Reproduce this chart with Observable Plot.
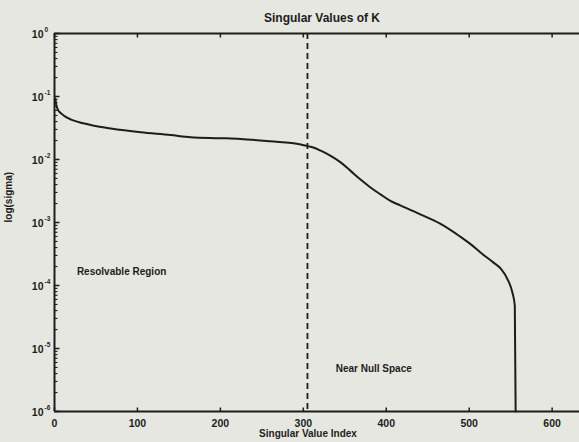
<!DOCTYPE html>
<html>
<head>
<meta charset="utf-8">
<script src="https://cdn.jsdelivr.net/npm/d3@7"></script>
<script src="https://cdn.jsdelivr.net/npm/@observablehq/plot@0.6"></script>
<style>
  html, body { margin: 0; padding: 0; background: #e6e7e1; }
  #chart svg { display: block; }
</style>
</head>
<body>
<div id="chart"></div>
<script>
// Singular value spectrum of K (index vs. sigma, log scale)
const svIndex = [1, 2, 4, 8, 14, 20, 30, 45, 68, 104, 140, 164, 200, 224, 260, 297, 305, 312, 321, 333, 345, 357, 369, 381, 393, 405, 417, 441, 465, 489, 502, 514, 529, 538, 547, 552, 555, 556];
const svValue = [0.092, 0.075, 0.062, 0.054, 0.047, 0.043, 0.039, 0.035, 0.031, 0.027, 0.0245, 0.0226, 0.0218, 0.0212, 0.0194, 0.0173, 0.0163, 0.0155, 0.0138, 0.0114, 0.0090, 0.0066, 0.0048, 0.0036, 0.0028, 0.0022, 0.00187, 0.00135, 0.00096, 0.0006, 0.00045, 0.00033, 0.000233, 0.000186, 0.00012, 0.000078, 0.000048, 0.000001];

// Boundary between the resolvable region and the near null space
const cutoffIndex = [305];

// Axis ticks and labels
const xTicks = [0, 100, 200, 300, 400, 500, 600];
const yDecades = [1, 1e-1, 1e-2, 1e-3, 1e-4, 1e-5, 1e-6];
const yExponents = ["0", "-1", "-2", "-3", "-4", "-5", "-6"];

// Region annotations
const regionLabels = ["Resolvable Region", "Near Null Space"];
const regionX = [27, 339];
const regionY = [1.66e-4, 4.7e-6];

const curve = svIndex.map((x, i) => ({x, y: svValue[i]}));
const minorTicks = yDecades.slice(1).flatMap(d => d3.range(2, 10).map(k => k * d));
const regions = regionLabels.map((t, i) => ({t, x: regionX[i], y: regionY[i]}));
const ink = "#1d1d1b";
const font = "Liberation Sans, Arial, sans-serif";

// inward tick lengths, in data units of the opposite axis
const xPerPx = 633 / 525;
const yTickUp = v => v * Math.pow(10, 4 / 63);
const yTickDown = v => v / Math.pow(10, 4 / 63);

const chart = Plot.plot({
  width: 579,
  height: 442,
  marginLeft: 54,
  marginTop: 33,
  marginBottom: 31,
  marginRight: 0,
  style: {background: "#e6e7e1", color: ink, fontFamily: font, overflow: "visible"},
  x: {domain: [0, 633], axis: null},
  y: {type: "log", domain: [1e-6, 1], axis: null},
  marks: [
    // box lines
    Plot.ruleY([1e-6], {stroke: ink, strokeWidth: 2}),
    Plot.ruleY([1], {stroke: ink, strokeWidth: 2}),
    Plot.ruleX([0], {stroke: ink, strokeWidth: 2}),
    // inward ticks
    Plot.link(xTicks, {x1: d => d, x2: d => d, y1: () => 1e-6, y2: () => yTickUp(1e-6), stroke: ink, strokeWidth: 1.5}),
    Plot.link(xTicks, {x1: d => d, x2: d => d, y1: () => 1, y2: () => yTickDown(1), stroke: ink, strokeWidth: 1.5}),
    Plot.link(yDecades, {x1: () => 0, x2: () => 5 * xPerPx, y1: d => d, y2: d => d, stroke: ink, strokeWidth: 1.5}),
    Plot.link(minorTicks, {x1: () => 0, x2: () => 3 * xPerPx, y1: d => d, y2: d => d, stroke: ink, strokeWidth: 1.1}),
    // tick labels
    Plot.text(xTicks, {x: d => d, y: () => 1e-6, text: d => String(d), dy: 12, fontSize: 10.5, fontWeight: "bold", fill: ink}),
    Plot.text(yDecades, {x: () => 0, y: d => d, text: () => "10", dx: -11, dy: 1, textAnchor: "end", fontSize: 10.5, fontWeight: "bold", fill: ink}),
    Plot.text(yDecades, {x: () => 0, y: d => d, text: (d, i) => yExponents[i], dx: -10, dy: -4, textAnchor: "start", fontSize: 6.5, fontWeight: "bold", fill: ink}),
    // cutoff
    Plot.ruleX(cutoffIndex, {stroke: ink, strokeWidth: 1.8, strokeDasharray: "6,4"}),
    // spectrum
    Plot.line(curve, {x: "x", y: "y", stroke: ink, strokeWidth: 2, curve: "monotone-x"}),
    // annotations
    Plot.text(regions, {x: "x", y: "y", text: "t", textAnchor: "start", fontSize: 10, fontWeight: "bold", fill: ink}),
    // titles
    Plot.text(["Singular Values of K"], {frameAnchor: "top", dy: -20, dx: 5, fontSize: 12, fontWeight: "bold", fill: ink}),
    Plot.text(["Singular Value Index"], {frameAnchor: "bottom", dy: 25, dx: -9, fontSize: 10, fontWeight: "bold", fill: ink}),
    Plot.text(["log(sigma)"], {frameAnchor: "left", dx: -46, rotate: -90, fontSize: 10, fontWeight: "bold", fill: ink})
  ]
});
document.getElementById("chart").append(chart);
</script>
</body>
</html>
